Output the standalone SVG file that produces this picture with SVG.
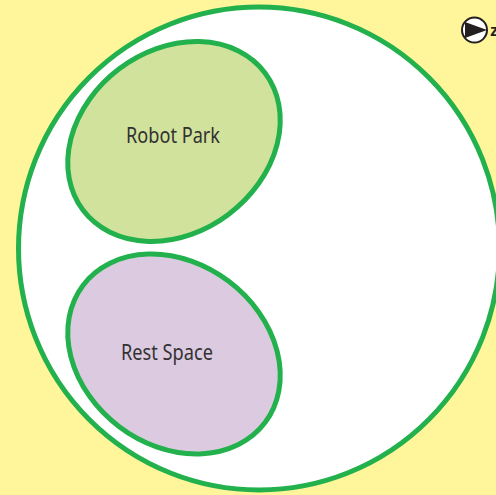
<svg xmlns="http://www.w3.org/2000/svg" width="496" height="495" viewBox="0 0 496 495">
<style>
.zone{stroke:#22b14c;stroke-width:5}
.label{font-family:"Noto Sans","Open Sans",sans-serif;font-size:21px;fill:#333132}
</style>
<rect width="496" height="495" fill="#fff59b"/>
<g id="boundary"><ellipse class="zone" cx="259" cy="248.500" rx="240.500" ry="241.500" fill="#fff"/></g>
<g id="robot-park">
<ellipse class="zone" cx="174" cy="141.500" rx="114" ry="91" transform="rotate(-37 174 141.500)" fill="#d1e29c"/>
<text class="label" x="126" y="142.500" textLength="94" lengthAdjust="spacingAndGlyphs">Robot Park</text>
</g>
<g id="rest-space">
<ellipse class="zone" cx="174" cy="354" rx="114" ry="91" transform="rotate(37 174 354)" fill="#dccbe0"/>
<text class="label" x="121" y="359.500" textLength="92" lengthAdjust="spacingAndGlyphs">Rest Space</text>
</g>
<g id="north-marker">
<circle cx="474.500" cy="30" r="12.500" fill="#fff" stroke="#231f20" stroke-width="2"/>
<path d="M465 22L487 30L465 38Z" fill="#231f20"/>
<text x="490" y="36" style="font-family:'Liberation Sans',sans-serif;font-size:17px;font-weight:700;fill:#231f20">z</text>
</g>
</svg>
